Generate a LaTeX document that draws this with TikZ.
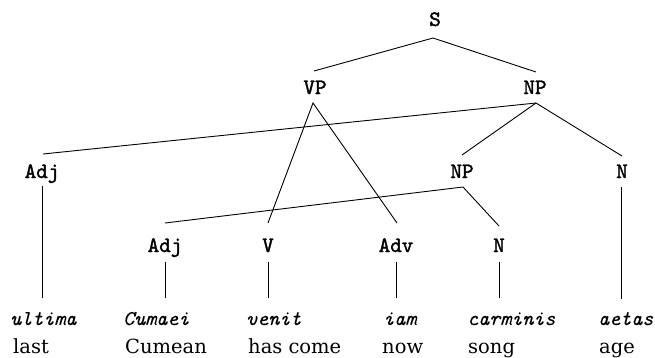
\documentclass[tikz,border=0pt]{standalone}
\usepackage{fontspec}
\usetikzlibrary{calc}
\newfontfamily\catfont{lmmono10-regular.otf}[FakeBold=1.6]
\newfontfamily\latinfont{lmmono10-italic.otf}[FakeBold=0.3]
\newfontfamily\glossfont{DejaVu Serif}
\begin{document}
\begin{tikzpicture}[x=1pt,y=-1pt,
  cat/.style={anchor=base,inner sep=0pt,font=\catfont\fontsize{22}{25}\selectfont},
  latin/.style={anchor=base west,inner sep=0pt,font=\latinfont\fontsize{21}{24}\selectfont},
  gloss/.style={anchor=base west,inner sep=0pt,font=\glossfont\fontsize{19.5}{23}\selectfont},
  branch/.style={line width=0.9pt,black}]
\useasboundingbox (0,0) rectangle (655,357);

% category labels
\node[cat] (S)    at (435,26)  {S};
\node[cat] (VP)   at (315,94)  {VP};
\node[cat] (NP)   at (535,94)  {NP};
\node[cat] (adjA) at (42,178)  {Adj};
\node[cat] (NPb)  at (462,178) {NP};
\node[cat] (NA)   at (622,178) {N};
\node[cat] (adjB) at (165,252) {Adj};
\node[cat] (V)    at (268,252) {V};
\node[cat] (adv)  at (396,252) {Adv};
\node[cat] (NB)   at (499,252) {N};

% Latin words
\node[latin] (w1) at (10,325)  {ultima};
\node[latin] (w2) at (123,325) {Cumaei};
\node[latin] (w3) at (246,325) {venit};
\node[latin] (w4) at (383,325) {iam};
\node[latin] (w5) at (467,325) {carminis};
\node[latin] (w6) at (598,325) {aetas};

% English glosses
\node[gloss] (g1) at (13,353)  {last};
\node[gloss] (g2) at (125,353) {Cumean};
\node[gloss] (g3) at (248,353) {has come};
\node[gloss] (g4) at (382,353) {now};
\node[gloss] (g5) at (468,353) {song};
\node[gloss] (g6) at (599,353) {age};

% branches
\draw[branch] ($(VP.base)+(-1,-23)$) -- ($(S.base)+(-2,12)$) -- ($(NP.base)+(1,-22)$);
\draw[branch] ($(V.base)+(0,-29)$) -- ($(VP.base)+(-2,9)$) -- ($(adv.base)+(1,-29)$);
\draw[branch] ($(adjA.base)+(1,-24)$) -- ($(NP.base)+(1,9)$) -- ($(NA.base)+(0,-22)$);
\draw[branch] ($(NP.base)+(1,9)$) -- ($(NPb.base)+(0,-23)$);
\draw[branch] ($(adjB.base)+(0,-29)$) -- ($(NPb.base)+(1,9)$) -- ($(NB.base)+(0,-26)$);

% stems down to the words
\draw[branch] ($(adjA.base)+(0,8)$) -- ($(adjA.base)+(0,120)$);
\draw[branch] ($(NA.base)+(-1,9)$) -- ($(NA.base)+(-1,121)$);
\foreach \n in {adjB,V,adv,NB}
  \draw[branch] ($(\n.base)+(0,10)$) -- ($(\n.base)+(0,46)$);
\end{tikzpicture}
\end{document}
